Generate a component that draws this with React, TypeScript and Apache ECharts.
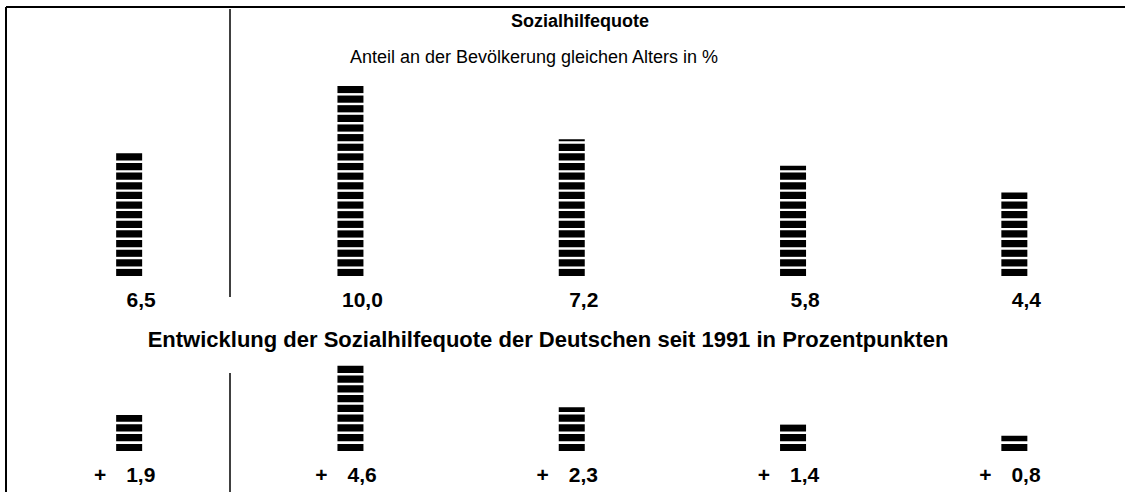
import React, { useEffect, useRef } from 'react';
import * as echarts from 'echarts';

const groups = ['g1', 'g2', 'g3', 'g4', 'g5'];
const quoteValues = [6.5, 10.0, 7.2, 5.8, 4.4];
const changeValues = [1.9, 4.6, 2.3, 1.4, 0.8];
const titleText = 'Sozialhilfequote';
const subtitleText = 'Anteil an der Bevölkerung gleichen Alters in %';
const changeTitleText = 'Entwicklung der Sozialhilfequote der Deutschen seit 1991 in Prozentpunkten';

const fmt = (v: number) => v.toFixed(1).replace('.', ',');
const FONT = '"Liberation Sans", Arial, sans-serif';

export default function App() {
  const ref = useRef<HTMLDivElement>(null);
  useEffect(() => {
    if (!ref.current) return;
    const chart = echarts.init(ref.current, undefined, { renderer: 'svg' });
    const barBase = {
      type: 'pictorialBar' as const,
      symbol: 'rect',
      symbolSize: [26, 7],
      symbolRepeat: 'fixed',
      symbolMargin: 1.5,
      symbolClip: true,
      itemStyle: { color: '#000' },
      silent: true,
    };
    const lbl = { fontSize: 21, fontWeight: 'bold', color: '#000', fontFamily: FONT };
    chart.setOption({
      animation: false,
      backgroundColor: '#fff',
      textStyle: { fontFamily: FONT },
      grid: [
        { left: 18.5, width: 1125, top: 86, height: 190 },
        { left: 18.5, width: 1125, top: 356, height: 95 },
      ],
      xAxis: [
        {
          gridIndex: 0,
          type: 'category',
          data: groups.map((g, i) => fmt(quoteValues[i])),
          axisLine: { show: false },
          axisTick: { show: false },
          axisLabel: {
            margin: 13,
            formatter: (v: string) => `{v|${v}}`,
            rich: { v: { ...lbl, padding: [0, 0, 0, 24] } },
          },
        },
        {
          gridIndex: 1,
          type: 'category',
          data: groups.map((g, i) => fmt(changeValues[i])),
          axisLine: { show: false },
          axisTick: { show: false },
          axisLabel: {
            margin: 13,
            formatter: (v: string) => `{p|+}{v|${v}}`,
            rich: {
              p: { ...lbl, padding: [0, 20, 0, 0] },
              v: { ...lbl, padding: [0, 9, 0, 0] },
            },
          },
        },
      ],
      yAxis: [
        { gridIndex: 0, type: 'value', min: 0, max: 10, show: false },
        { gridIndex: 1, type: 'value', min: 0, max: 5, show: false },
      ],
      series: [
        { ...barBase, xAxisIndex: 0, yAxisIndex: 0, data: quoteValues, symbolBoundingData: 10 },
        { ...barBase, xAxisIndex: 1, yAxisIndex: 1, data: changeValues, symbolBoundingData: 5 },
      ],
      graphic: [
        { type: 'line', shape: { x1: 6, y1: 7, x2: 1125, y2: 7 }, style: { stroke: '#000', lineWidth: 2 } },
        { type: 'line', shape: { x1: 6, y1: 7, x2: 6, y2: 492 }, style: { stroke: '#000', lineWidth: 2 } },
        { type: 'line', shape: { x1: 230, y1: 9, x2: 230, y2: 297 }, style: { stroke: '#000', lineWidth: 1.5 } },
        { type: 'line', shape: { x1: 230, y1: 373, x2: 230, y2: 492 }, style: { stroke: '#000', lineWidth: 1.5 } },
        {
          type: 'text', x: 580, y: 21,
          style: { text: titleText, fill: '#000', font: `bold 18px ${FONT}`, textAlign: 'center', textVerticalAlign: 'middle' },
        },
        {
          type: 'text', x: 534, y: 57,
          style: { text: subtitleText, fill: '#000', font: `18px ${FONT}`, textAlign: 'center', textVerticalAlign: 'middle' },
        },
        {
          type: 'text', x: 548, y: 339,
          style: { text: changeTitleText, fill: '#000', font: `bold 22px ${FONT}`, textAlign: 'center', textVerticalAlign: 'middle' },
        },
      ],
    });
    return () => chart.dispose();
  }, []);
  return <div ref={ref} style={{ position: 'absolute', left: 0, top: 0, width: 1125, height: 492 }} />;
}
